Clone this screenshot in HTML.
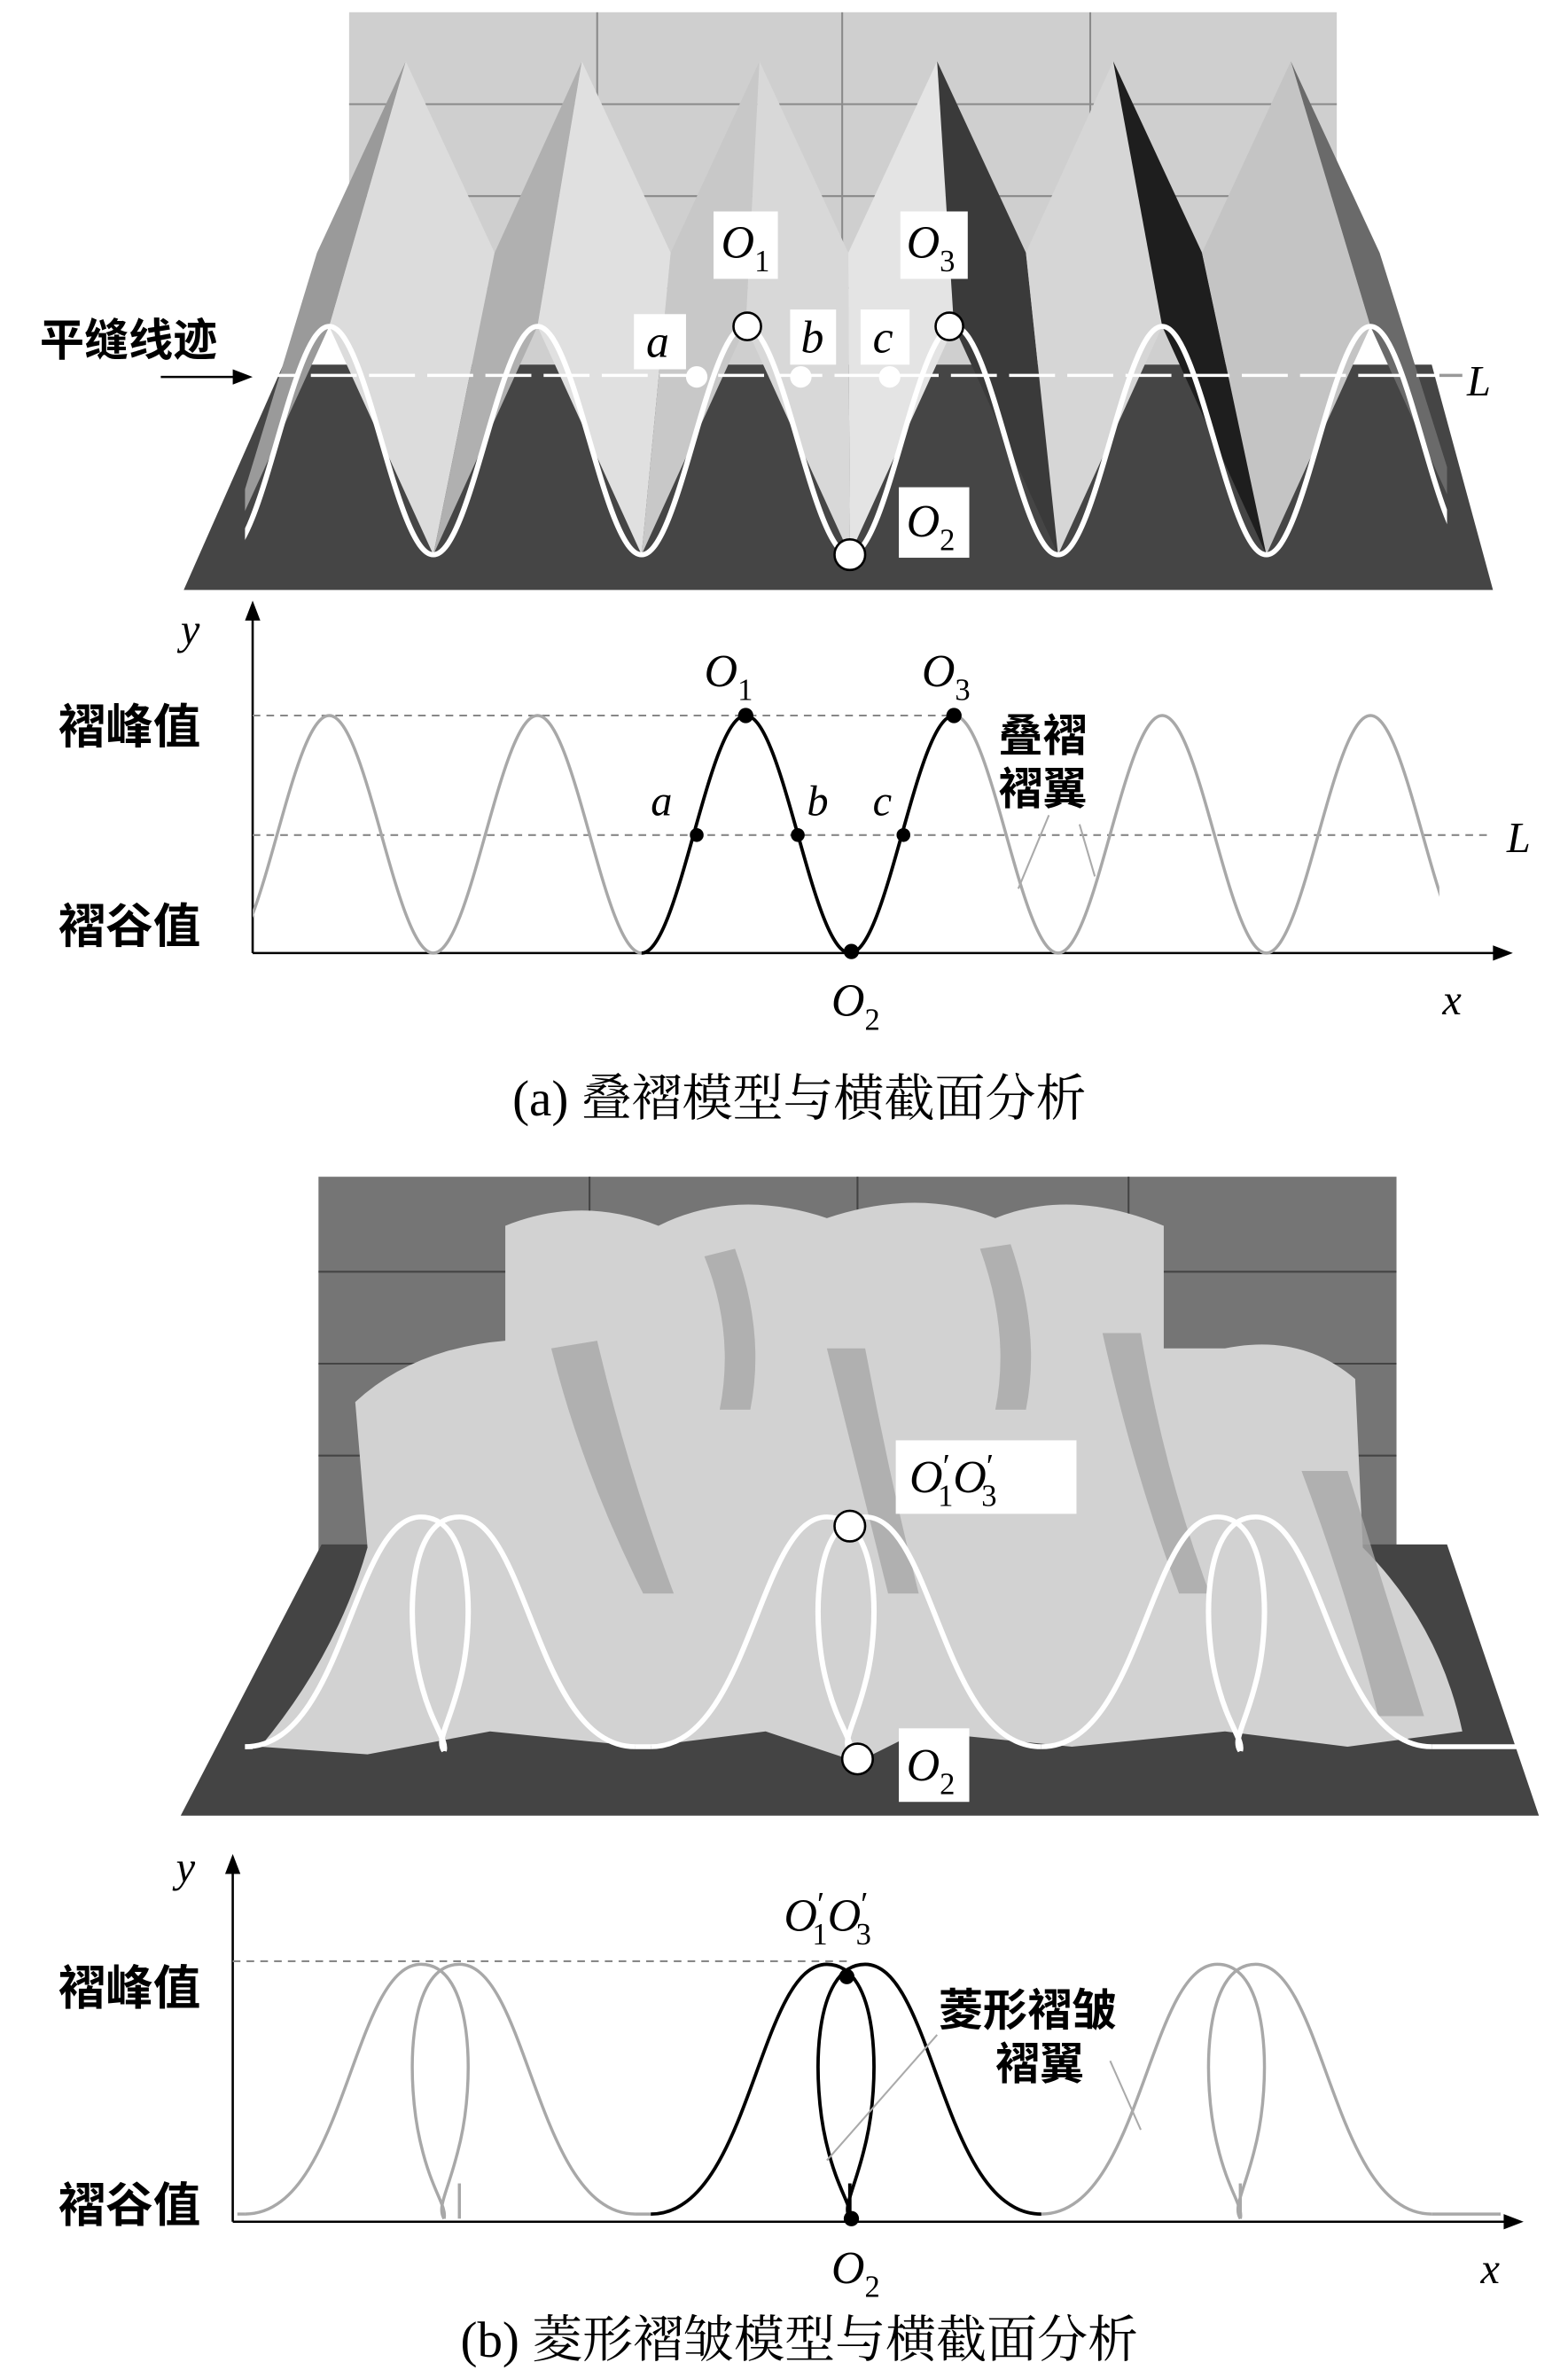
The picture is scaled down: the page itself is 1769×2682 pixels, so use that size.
<!DOCTYPE html>
<html><head><meta charset="utf-8"><style>html,body{margin:0;padding:0;background:#fff}svg{display:block}</style></head><body>
<svg xmlns="http://www.w3.org/2000/svg" width="1769" height="2682" viewBox="0 0 1024 1552" preserveAspectRatio="none">
<defs>
<clipPath id="ca"><rect x="165" y="380" width="775" height="260"/></clipPath>
<clipPath id="c3"><rect x="160" y="0" width="785" height="385"/></clipPath>
<path id="sine" d="M147,622 C171.5,622 190.5,467 215,467 C239.5,467 258.5,622 283,622 C307.5,622 326.5,467 351,467 C375.5,467 394.5,622 419,622 C443.5,622 462.5,467 487,467 C511.5,467 530.5,622 555,622 C579.5,622 598.5,467 623,467 C647.5,467 666.5,622 691,622 C715.5,622 734.5,467 759,467 C783.5,467 802.5,622 827,622 C851.5,622 870.5,467 895,467 C919.5,467 938.5,622 963,622"/>
<g id="lobe">
<path d="M425,1445 C490,1445 495,1282 540,1282 C575,1282 575,1360 565,1400 C558,1430 550,1440 555,1448"/>
<path d="M680,1445 C615,1445 610,1282 565,1282 C530,1282 530,1360 540,1400 C547,1430 557,1440 555,1448"/>
</g>
</defs>
<style>
.cn{font-family:"Liberation Sans","Noto Sans CJK SC",sans-serif;font-weight:bold;fill:#000}
.it{font-family:"Liberation Serif",serif;font-style:italic;fill:#000}
.cap{font-family:"Liberation Serif","Noto Serif CJK SC",serif;fill:#000}
</style>

<!-- ===== (a) 3D ===== -->
<rect x="228" y="8" width="645" height="250" fill="#cfcfcf"/>
<g stroke="#8a8a8a" stroke-width="1.2">
<line x1="390" y1="8" x2="390" y2="258"/><line x1="550" y1="8" x2="550" y2="258"/><line x1="712" y1="8" x2="712" y2="258"/>
<line x1="228" y1="68" x2="873" y2="68"/><line x1="228" y1="128" x2="873" y2="128"/><line x1="228" y1="188" x2="873" y2="188"/>
</g>
<polygon points="120,385 975,385 935,238 185,238" fill="#454545"/>
<g clip-path="url(#c3)">
<polygon points="147,362 215,213 265,40 207,165" fill="#9a9a9a"/>
<polygon points="215,213 283,362 323,165 265,40" fill="#dcdcdc"/>
<polygon points="283,362 351,213 380,40 323,165" fill="#b0b0b0"/>
<polygon points="351,213 419,362 438,165 380,40" fill="#e0e0e0"/>
<polygon points="419,362 487,213 496,40 438,165" fill="#c8c8c8"/>
<polygon points="487,213 555,362 554,165 496,40" fill="#d8d8d8"/>
<polygon points="555,362 623,213 612,40 554,165" fill="#e4e4e4"/>
<polygon points="623,213 691,362 670,165 612,40" fill="#3a3a3a"/>
<polygon points="691,362 759,213 727,40 670,165" fill="#d6d6d6"/>
<polygon points="759,213 827,362 785,165 727,40" fill="#1e1e1e"/>
<polygon points="827,362 895,213 843,40 785,165" fill="#c4c4c4"/>
<polygon points="895,213 963,362 901,165 843,40" fill="#6a6a6a"/>
</g>
<g clip-path="url(#c3)"><use href="#sine" fill="none" stroke="#fff" stroke-width="3.5" transform="translate(0,-235.9) scale(1,0.9613)"/></g>
<line x1="165" y1="245" x2="940" y2="245" stroke="#fff" stroke-width="2" stroke-dasharray="30,8"/>
<line x1="940" y1="245" x2="955" y2="245" stroke="#999" stroke-width="2"/>
<text x="958" y="258" class="it" font-size="28">L</text>
<text x="26" y="232" class="cn" font-size="29">平缝线迹</text>
<line x1="105" y1="246" x2="160" y2="246" stroke="#000" stroke-width="1.5"/>
<polygon points="165,246 152,241 152,251" fill="#000"/>
<g stroke="#000" stroke-width="1.5" fill="#fff">
<circle cx="488" cy="213" r="9"/><circle cx="620" cy="213" r="9"/><circle cx="555" cy="362" r="10"/>
</g>
<g fill="#fff"><circle cx="455" cy="246" r="7"/><circle cx="523" cy="246" r="7"/><circle cx="581" cy="246" r="7"/></g>
<rect x="466" y="138" width="42" height="44" fill="#fff"/>
<rect x="588" y="138" width="44" height="44" fill="#fff"/>
<rect x="587" y="318" width="46" height="46" fill="#fff"/>
<rect x="414" y="205" width="34" height="36" fill="#fff"/>
<rect x="516" y="202" width="30" height="36" fill="#fff"/>
<rect x="562" y="202" width="32" height="36" fill="#fff"/>
<text x="471" y="168" class="it" font-size="30">O<tspan font-size="20" dy="9" font-style="normal">1</tspan></text>
<text x="592" y="168" class="it" font-size="30">O<tspan font-size="20" dy="9" font-style="normal">3</tspan></text>
<text x="592" y="350" class="it" font-size="30">O<tspan font-size="20" dy="9" font-style="normal">2</tspan></text>
<text x="422" y="233" class="it" font-size="30">a</text>
<text x="523" y="230" class="it" font-size="30">b</text>
<text x="570" y="230" class="it" font-size="30">c</text>

<!-- ===== (a) chart ===== -->
<line x1="165" y1="622" x2="165" y2="400" stroke="#000" stroke-width="1.5"/>
<polygon points="165,392 160,405 170,405" fill="#000"/>
<line x1="165" y1="622" x2="978" y2="622" stroke="#000" stroke-width="1.5"/>
<polygon points="988,622 975,617 975,627" fill="#000"/>
<line x1="165" y1="467" x2="623" y2="467" stroke="#888" stroke-width="1.2" stroke-dasharray="5,4"/>
<line x1="165" y1="545" x2="975" y2="545" stroke="#888" stroke-width="1.2" stroke-dasharray="5,4"/>
<g clip-path="url(#ca)"><use href="#sine" fill="none" stroke="#a8a8a8" stroke-width="2"/></g>
<path d="M419,622 C443.5,622 462.5,467 487,467 C511.5,467 530.5,622 555,622 C579.5,622 598.5,467 623,467" fill="none" stroke="#000" stroke-width="2.2"/>
<g fill="#000"><circle cx="487" cy="467" r="5"/><circle cx="623" cy="467" r="5"/><circle cx="556" cy="621" r="5"/><circle cx="455" cy="545" r="4.5"/><circle cx="521" cy="545" r="4.5"/><circle cx="590" cy="545" r="4.5"/></g>
<text x="118" y="420" class="it" font-size="28">y</text>
<text x="942" y="662" class="it" font-size="28">x</text>
<text x="984" y="556" class="it" font-size="28">L</text>
<text x="460" y="448" class="it" font-size="30">O<tspan font-size="20" dy="9" font-style="normal">1</tspan></text>
<text x="602" y="448" class="it" font-size="30">O<tspan font-size="20" dy="9" font-style="normal">3</tspan></text>
<text x="543" y="663" class="it" font-size="30">O<tspan font-size="20" dy="9" font-style="normal">2</tspan></text>
<text x="425" y="532" class="it" font-size="28">a</text>
<text x="527" y="532" class="it" font-size="28">b</text>
<text x="570" y="532" class="it" font-size="28">c</text>
<text x="38" y="485" class="cn" font-size="31">褶峰值</text>
<text x="38" y="615" class="cn" font-size="31">褶谷值</text>
<text x="652" y="490" class="cn" font-size="29">叠褶</text>
<text x="652" y="525" class="cn" font-size="29">褶翼</text>
<line x1="685" y1="532" x2="665" y2="580" stroke="#aaa" stroke-width="1.2"/>
<line x1="705" y1="538" x2="715" y2="572" stroke="#aaa" stroke-width="1.2"/>
<text x="522" y="728" class="cap" font-size="33" text-anchor="middle">(a) 叠褶模型与横截面分析</text>

<!-- ===== (b) 3D ===== -->
<rect x="208" y="768" width="704" height="245" fill="#757575"/>
<g stroke="#444" stroke-width="1.2">
<line x1="385" y1="768" x2="385" y2="1013"/><line x1="560" y1="768" x2="560" y2="1013"/><line x1="737" y1="768" x2="737" y2="1013"/>
<line x1="208" y1="830" x2="912" y2="830"/><line x1="208" y1="890" x2="912" y2="890"/><line x1="208" y1="950" x2="912" y2="950"/>
</g>
<polygon points="118,1185 1005,1185 945,1008 210,1008" fill="#444"/>
<path d="M330,800 Q380,780 430,800 Q480,775 540,795 Q600,775 650,795 Q700,775 760,800 L760,880 L800,880 Q850,870 885,900 L890,1010 Q940,1060 955,1130 L880,1140 L800,1130 L700,1140 L600,1130 L560,1150 L500,1130 L420,1140 L320,1130 L240,1145 L170,1140 Q220,1080 240,1010 L232,915 Q270,880 330,875 Z" fill="#d2d2d2"/>
<g fill="#a8a8a8" opacity="0.8">
<path d="M360,880 Q380,960 420,1040 L440,1040 Q410,960 390,875 Z"/>
<path d="M540,880 Q560,960 580,1040 L600,1040 Q580,960 565,880 Z"/>
<path d="M720,870 Q740,960 770,1040 L790,1040 Q760,960 745,870 Z"/>
<path d="M460,820 Q480,870 470,920 L490,920 Q500,870 480,815 Z"/>
<path d="M640,815 Q660,870 650,920 L670,920 Q680,870 660,812 Z"/>
<path d="M850,960 Q880,1040 900,1120 L930,1120 Q905,1040 880,960 Z"/>
</g>
<g fill="none" stroke="#fff" stroke-width="3.5" transform="translate(0,-189.4) scale(1,0.92)">
<use href="#lobe" transform="translate(-265,0)"/><use href="#lobe"/><use href="#lobe" transform="translate(255,0)"/>
<path d="M160,1445 L165,1445 M415,1445 L425,1445 M935,1445 L1000,1445"/>
</g>
<g stroke="#000" stroke-width="1.5" fill="#fff"><circle cx="555" cy="996" r="10"/><circle cx="560" cy="1148" r="10"/></g>
<rect x="585" y="940" width="118" height="48" fill="#fff"/>
<rect x="587" y="1128" width="46" height="48" fill="#fff"/>
<text x="594" y="974" class="it" font-size="30">O<tspan font-size="22" dy="-10" font-style="normal">′</tspan><tspan font-size="20" dx="-8" dy="19" font-style="normal">1</tspan><tspan dy="-9">O</tspan><tspan font-size="22" dy="-10" font-style="normal">′</tspan><tspan font-size="20" dx="-8" dy="19" font-style="normal">3</tspan></text>
<text x="592" y="1162" class="it" font-size="30">O<tspan font-size="20" dy="9" font-style="normal">2</tspan></text>

<!-- ===== (b) chart ===== -->
<line x1="152" y1="1450" x2="152" y2="1220" stroke="#000" stroke-width="1.5"/>
<polygon points="152,1210 147,1223 157,1223" fill="#000"/>
<line x1="152" y1="1450" x2="985" y2="1450" stroke="#000" stroke-width="1.5"/>
<polygon points="995,1450 982,1445 982,1455" fill="#000"/>
<line x1="152" y1="1280" x2="555" y2="1280" stroke="#888" stroke-width="1.2" stroke-dasharray="5,4"/>
<g fill="none" stroke="#a8a8a8" stroke-width="2">
<use href="#lobe" transform="translate(-265,0)"/><use href="#lobe" transform="translate(255,0)"/>
<line x1="155" y1="1445" x2="160" y2="1445"/><line x1="415" y1="1445" x2="425" y2="1445"/><line x1="935" y1="1445" x2="980" y2="1445"/>
<line x1="300" y1="1425" x2="300" y2="1448"/><line x1="810" y1="1425" x2="810" y2="1448"/>
</g>
<g fill="none" stroke="#000" stroke-width="2.2"><use href="#lobe"/><line x1="555" y1="1425" x2="555" y2="1448"/></g>
<g fill="#000"><circle cx="553" cy="1290" r="5"/><circle cx="556" cy="1448" r="5"/></g>
<line x1="612" y1="1328" x2="540" y2="1410" stroke="#aaa" stroke-width="1.2"/>
<line x1="725" y1="1345" x2="745" y2="1390" stroke="#aaa" stroke-width="1.2"/>
<text x="115" y="1228" class="it" font-size="28">y</text>
<text x="967" y="1490" class="it" font-size="28">x</text>
<text x="512" y="1260" class="it" font-size="30">O<tspan font-size="22" dy="-10" font-style="normal">′</tspan><tspan font-size="20" dx="-8" dy="19" font-style="normal">1</tspan><tspan dy="-9">O</tspan><tspan font-size="22" dy="-10" font-style="normal">′</tspan><tspan font-size="20" dx="-8" dy="19" font-style="normal">3</tspan></text>
<text x="543" y="1490" class="it" font-size="30">O<tspan font-size="20" dy="9" font-style="normal">2</tspan></text>
<text x="38" y="1308" class="cn" font-size="31">褶峰值</text>
<text x="38" y="1450" class="cn" font-size="31">褶谷值</text>
<text x="613" y="1322" class="cn" font-size="29">菱形褶皱</text>
<text x="650" y="1357" class="cn" font-size="29">褶翼</text>
<text x="522" y="1538" class="cap" font-size="33" text-anchor="middle">(b) 菱形褶皱模型与横截面分析</text>
</svg>
</body></html>
